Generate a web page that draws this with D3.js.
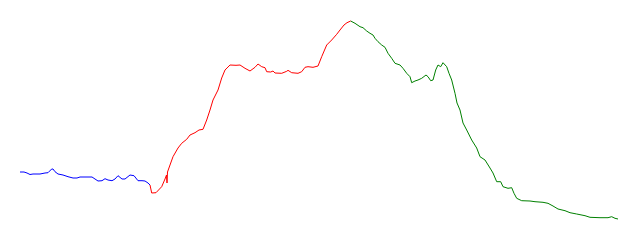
<!DOCTYPE html>
<html>
<head>
<meta charset="utf-8">
<script src="https://cdn.jsdelivr.net/npm/d3@7"></script>
<style>
  html, body { margin: 0; padding: 0; background: #fff; }
  svg { display: block; }
</style>
</head>
<body>
<div id="container"></div>
<script>
// three segments of one series, [x, value]
var blueData = [[0,48],[4,48],[7,47],[10,45.5],[13,46],[16,46],[20,46],[25,47],[28,47.3],[31.7,51],[33,51],[35,48.3],[38,46],[43,45],[48,43.3],[53,42],[57,42],[60,43],[67,43],[72,43],[75,41],[78,39],[82,39.3],[85,41.3],[88,40],[92,39.3],[95,41],[98,44.3],[102,41],[105,41],[110,45],[114,44.3],[118,39.3],[122,39.3],[125,39],[128,37],[130,35]];

var redData = [[130,35],[131.7,27],[136,27.3],[141.7,33.3],[145,41],[146.5,45],[147,37],[147.5,48],[150,55],[153,63.3],[158,72],[161.7,76.7],[166.7,80.7],[170,85],[175,87.3],[179,90],[183,90.7],[186.7,100],[190,110],[193,120],[198,130],[201.7,142],[205,150],[210,155],[216,154.7],[220,155],[225,151.7],[230,149],[235,152.7],[238,156],[241.7,153.3],[245,152.3],[246.7,148.3],[250.7,148],[253,149],[255,147],[261.7,146.7],[266.7,148.7],[268,149.7],[271.7,147.3],[278,146.7],[281.7,148.3],[285,152.7],[288,153.3],[293,152.7],[298,154],[301.7,163.3],[306.7,175],[311.7,180],[316.7,185.7],[320,190],[324,195],[327,197.3],[330.7,199]];

var greenData = [[330.7,199],[335,196.7],[340,193.3],[343,192.3],[346.7,189],[350,186.7],[353,185],[355,181.7],[358,178.3],[361.7,175],[365,172.7],[368,166.7],[371.7,161.7],[375,156.7],[380,155],[383,151.7],[386.7,146.7],[390,143.3],[391.7,137.3],[395,139],[398,140],[401.7,141.7],[406,145],[408,143.3],[410.7,139.3],[413,140],[415.7,150],[418,155],[420.7,153.3],[423,157.3],[426.7,153.3],[429,146.7],[431.7,140],[435,126.7],[437,117],[440,110],[443,97],[446.7,90],[451.7,80],[456.7,72],[460,63.3],[465,60],[470,52],[473,47],[476.7,38.3],[480.7,38.3],[483,33.3],[488,31.7],[491.7,32.3],[494,26.7],[496.7,21.7],[501.7,19.3],[510,19],[515,18.3],[523,17.7],[528,16.7],[533,14],[538,11],[545,9.3],[550,7.3],[556.7,6],[565,4.3],[570,2.7],[580,2.3],[588,2.3],[591.7,3.3],[595,1.7],[598,1]];

var segments = [
  { name: "blue", values: blueData },
  { name: "red", values: redData },
  { name: "green", values: greenData }
];

var w = 640,
    h = 240;

var x = d3.scaleLinear().domain([0, 600]).range([20, 620]);
var y = d3.scaleLinear().domain([0, 200]).range([220, 20]);

var svg = d3.select("#container").append("svg")
    .attr("width", w)
    .attr("height", h);

var line = d3.line()
    .x(function(d) { return x(d[0]); })
    .y(function(d) { return y(d[1]); });

svg.selectAll("path.seg")
    .data(segments)
  .enter().append("path")
    .attr("class", "seg")
    .attr("fill", "none")
    .attr("stroke", function(d) { return d.name; })
    .attr("stroke-width", 1)
    .attr("d", function(d) { return line(d.values); });
</script>
</body>
</html>
